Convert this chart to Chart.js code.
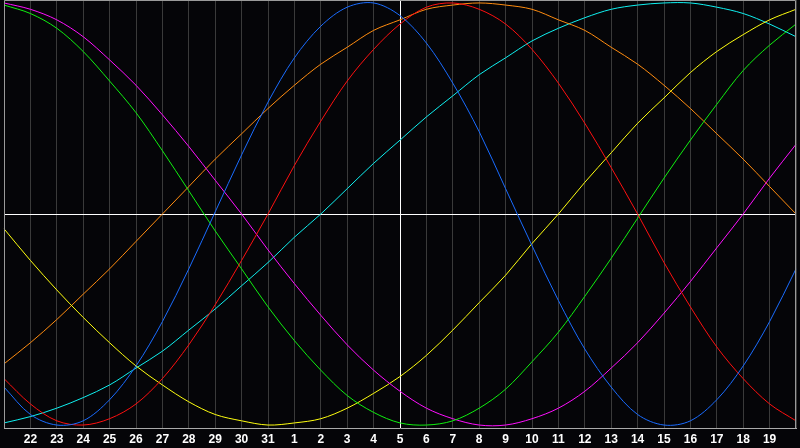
<!DOCTYPE html>
<html>
<head>
<meta charset="utf-8">
<script src="https://cdn.jsdelivr.net/npm/chart.js@4/dist/chart.umd.min.js"></script>
<style>
  html, body { margin: 0; padding: 0; background: #050508; }
  #wrap { width: 800px; height: 448px; }
</style>
</head>
<body>
<div id="wrap"><canvas id="c" width="800" height="448"></canvas></div>
<script>
// Days shown (first and last are the plot edges, without labels)
const days = ['21','22','23','24','25','26','27','28','29','30','31',
              '1','2','3','4','5','6','7','8','9','10','11','12','13','14','15','16','17','18','19','20'];

// Biorhythm cycle values (percent), one per day
const physical     = [-82,-95,-100,-98,-88,-72,-51,-26,1,28,53,74,89,98,100,94,81,62,39,12,-15,-41,-64,-82,-95,-100,-98,-88,-72,-51,-26];
const emotional    = [-78,-90,-98,-100,-97,-90,-78,-62,-43,-22,0,23,44,63,78,90,98,100,97,90,78,62,43,22,0,-23,-44,-63,-78,-90,-98];
const intellectual = [99,95,88,77,63,48,30,11,-8,-26,-44,-60,-74,-86,-94,-99,-100,-98,-92,-83,-70,-56,-39,-21,-2,17,35,52,68,80,90];
const intuitive    = [100,97,92,84,73,61,47,32,16,0,-17,-33,-48,-62,-74,-84,-92,-97,-100,-100,-97,-92,-84,-73,-61,-47,-32,-16,0,17,33];
const aesthetic    = [-7,-22,-36,-49,-61,-72,-81,-89,-95,-98,-100,-99,-97,-92,-85,-77,-67,-55,-42,-29,-14,0,15,29,43,55,67,77,85,92,97];
const awareness    = [-71,-61,-50,-38,-26,-13,0,13,26,38,50,61,71,79,87,92,97,99,100,99,97,92,87,79,71,61,50,38,26,13,0];
const spiritual    = [-99,-96,-92,-87,-81,-73,-65,-55,-45,-34,-23,-11,0,12,24,35,46,56,66,74,82,88,93,97,99,100,100,98,95,90,84];

const todayIndex = 15;

const bgPlugin = {
  id: 'bg',
  beforeDraw(chart) {
    const ctx = chart.ctx;
    ctx.save();
    ctx.fillStyle = '#050508';
    ctx.fillRect(0, 0, chart.width, chart.height);
    ctx.restore();
  },
  afterDraw(chart) {
    const ctx = chart.ctx;
    const a = chart.chartArea;
    ctx.save();
    ctx.strokeStyle = '#9a9a9a';
    ctx.lineWidth = 1;
    ctx.beginPath();
    ctx.moveTo(a.left + 0.5, a.bottom);
    ctx.lineTo(a.left + 0.5, a.top + 0.5);
    ctx.lineTo(a.right - 0.5, a.top + 0.5);
    ctx.lineTo(a.right - 0.5, a.bottom);
    ctx.stroke();
    ctx.restore();
  }
};

function ds(label, data, color) {
  return {
    label, data,
    borderColor: color,
    backgroundColor: color,
    borderWidth: 1,
    pointRadius: 0,
    fill: false,
    tension: 0.33
  };
}

new Chart(document.getElementById('c'), {
  type: 'line',
  data: {
    labels: days,
    datasets: [
      ds('Physical', physical, '#1a6cff'),
      ds('Emotional', emotional, '#ff1010'),
      ds('Intellectual', intellectual, '#10f010'),
      ds('Intuitive', intuitive, '#ff10ff'),
      ds('Aesthetic', aesthetic, '#ffff10'),
      ds('Awareness', awareness, '#ff8c10'),
      ds('Spiritual', spiritual, '#10f0f0')
    ]
  },
  plugins: [bgPlugin],
  options: {
    responsive: false,
    animation: false,
    devicePixelRatio: 1,
    layout: { padding: 0 },
    plugins: { legend: { display: false }, tooltip: { enabled: false } },
    scales: {
      x: {
        type: 'category',
        offset: false,
        afterFit(s) { s.height = 20; },
        border: { display: true, color: '#aaaaaa', width: 1 },
        grid: {
          drawTicks: false,
          lineWidth: 1,
          color: (c) => c.index === todayIndex ? '#ffffff' : '#3a3a3a'
        },
        ticks: {
          autoSkip: false,
          maxRotation: 0,
          padding: 4,
          color: '#ffffff',
          font: { family: 'Liberation Sans', size: 12, weight: 'bold' },
          callback: function (v, i) {
            return (i === 0 || i === days.length - 1) ? '' : this.getLabelForValue(v);
          }
        }
      },
      y: {
        min: -101.4,
        max: 101.4,
        afterFit(s) { s.width = 0; },
        border: { display: false },
        grid: {
          drawTicks: false,
          lineWidth: 1,
          color: (c) => (c.tick && c.tick.value === 0) ? '#ffffff' : 'rgba(0,0,0,0)'
        },
        ticks: { display: false, stepSize: 50 }
      }
    }
  }
});
</script>
</body>
</html>
